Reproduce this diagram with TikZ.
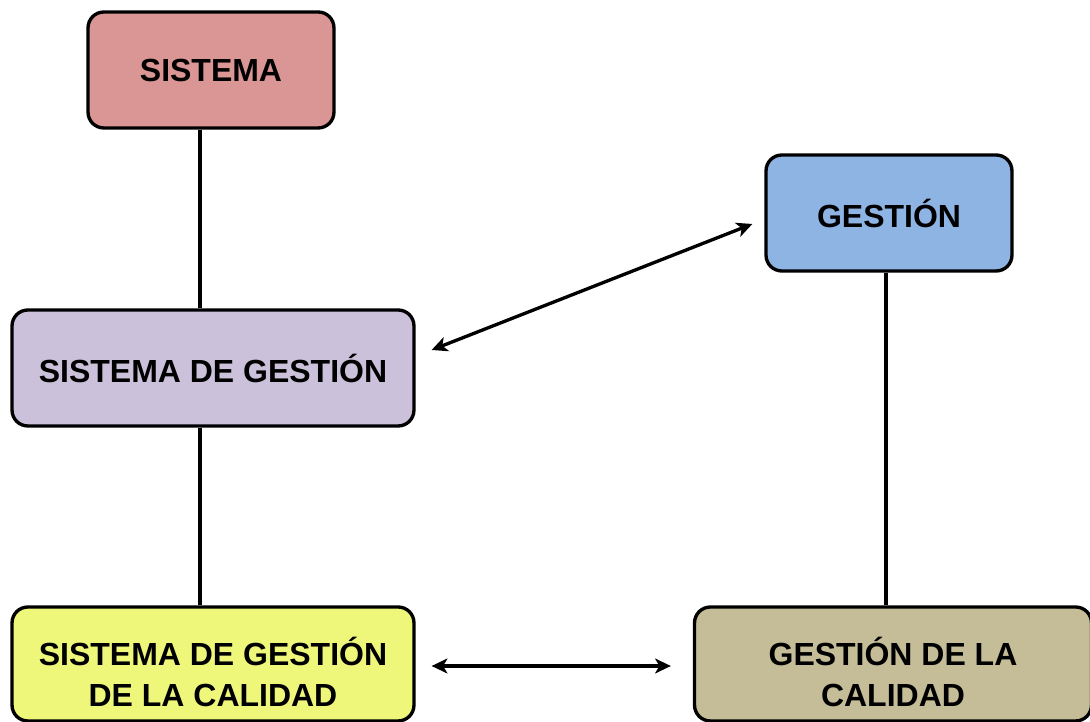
\documentclass[tikz,border=0pt]{standalone}
\usepackage{fontspec}
\setmainfont{Liberation Sans}
\usetikzlibrary{calc,arrows.meta}
\definecolor{rojo}{HTML}{D99694}
\definecolor{azul}{HTML}{8EB4E3}
\definecolor{lila}{HTML}{CCC1DA}
\definecolor{amarillo}{HTML}{EFF77A}
\definecolor{arena}{HTML}{C4BD97}
\tikzset{
	caja/.style={draw=black, line width=1.9pt, rounded corners=9pt, align=center,
		font=\bfseries\fontsize{18.2}{23}\selectfont, minimum height=2.32cm},
	cajados/.style={caja, minimum height=2.28cm, text height=48pt, text depth=0pt},
	linea/.style={line width=1.9pt},
	flecha/.style={line width=1.9pt, {Stealth[length=9pt,width=8.5pt,inset=2.5pt]}-{Stealth[length=9pt,width=8.5pt,inset=2.5pt]}}
}

\begin{document}
\begin{tikzpicture}[x=0.02cm, y=-0.02cm]
			%%%%% START %%%%%
			\useasboundingbox (0, 0) rectangle (1090, 722);
			
			\node[caja, fill=rojo, minimum width=4.92cm] (sis) at (211, 70) {SISTEMA};
			\node[caja, fill=azul, minimum width=4.92cm] (ges) at (889, 213) {GESTIÓN};
			\node[caja, fill=lila, minimum width=8.04cm] (sisges) at (213, 368) {SISTEMA DE GESTIÓN};
			\node[cajados, fill=amarillo, minimum width=8.04cm] (sgc) at (213, 664) {SISTEMA DE GESTIÓN\\DE LA CALIDAD};
			\node[cajados, fill=arena, minimum width=7.94cm] (gc) at (893, 664) {GESTIÓN DE LA\\CALIDAD};
			
			\draw[linea] (sis.south -| 200, 0) -- (sisges.north -| 200, 0);
			\draw[linea] (sisges.south -| 200, 0) -- (sgc.north -| 200, 0);
			\draw[linea] (ges.south -| 886, 0) -- (gc.north -| 886, 0);
			
			\draw[flecha] ($(sisges.east)+(16, -18)$) -- ($(ges.west)+(-12, 11)$);
			\draw[flecha] ($(sgc.east)+(16, 2)$) -- ($(gc.west)+(-22, 2)$);
			
			%%%%% END %%%%%
\end{tikzpicture}
\end{document}
